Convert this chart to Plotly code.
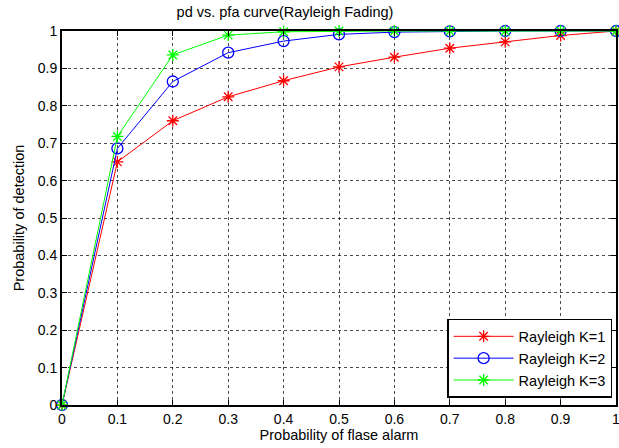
import plotly.graph_objects as go

pfa = [0, 0.1, 0.2, 0.3, 0.4, 0.5, 0.6, 0.7, 0.8, 0.9, 1.0]
pd_k1 = [0, 0.650, 0.760, 0.824, 0.867, 0.904, 0.930, 0.954, 0.971, 0.988, 1.0]
pd_k2 = [0, 0.686, 0.865, 0.942, 0.973, 0.991, 0.997, 0.999, 1.0, 1.0, 1.0]
pd_k3 = [0, 0.718, 0.936, 0.989, 0.998, 1.0, 1.0, 1.0, 1.0, 1.0, 1.0]

tick_vals = [0, 0.1, 0.2, 0.3, 0.4, 0.5, 0.6, 0.7, 0.8, 0.9, 1]
tick_text = ["0", "0.1", "0.2", "0.3", "0.4", "0.5", "0.6", "0.7", "0.8", "0.9", "1"]

series = [
    ("Rayleigh K=1", pd_k1, "#ff0000", "asterisk-open", 10),
    ("Rayleigh K=2", pd_k2, "#0000ff", "circle-open", 11),
    ("Rayleigh K=3", pd_k3, "#00ff00", "asterisk-open", 10),
]

fig = go.Figure()
for name, ys, col, sym, sz in series:
    fig.add_trace(go.Scatter(
        x=pfa, y=ys, name=name, mode="lines+markers",
        line=dict(color=col, width=1),
        marker=dict(symbol=sym, size=sz, color=col, line=dict(color=col, width=1.3)),
        cliponaxis=False,
    ))

font = "Liberation Sans, Arial, sans-serif"
axis_common = dict(
    range=[0, 1], tickvals=tick_vals, ticktext=tick_text,
    showline=True, linecolor="black", linewidth=2, mirror="allticks",
    ticks="inside", ticklen=5, tickcolor="black",
    showgrid=True, gridcolor="rgba(0,0,0,0.7)", griddash="dot", gridwidth=1,
    zeroline=False, automargin=False, ticklabeloverflow="allow",
    tickfont=dict(family=font, size=14, color="black"),
)

fig.update_layout(
    width=619, height=448,
    margin=dict(l=62, r=3, t=31, b=43),
    paper_bgcolor="white", plot_bgcolor="white",
    title=dict(text="pd vs. pfa curve(Rayleigh Fading)", x=285 / 619, xanchor="center",
               xref="container", yref="container", y=1 - 12 / 448, yanchor="middle",
               font=dict(family=font, size=14.5, color="black")),
    xaxis=dict(title=dict(text="Probability of flase alarm", standoff=4,
                          font=dict(family=font, size=14.5, color="black")), **axis_common),
    yaxis=dict(title=dict(text="Probability of detection", standoff=10,
                          font=dict(family=font, size=14.5, color="black")), **axis_common),
    legend=dict(x=0.993, y=0.019, xanchor="right", yanchor="bottom",
                bgcolor="white", bordercolor="black", borderwidth=1.5,
                font=dict(family=font, size=14.5, color="black"),
                itemwidth=60, tracegroupgap=0),
    showlegend=True,
)

fig.write_html("out.html", config={"displayModeBar": False},
               post_script="document.body.style.margin='0';document.body.style.overflow='hidden';")
